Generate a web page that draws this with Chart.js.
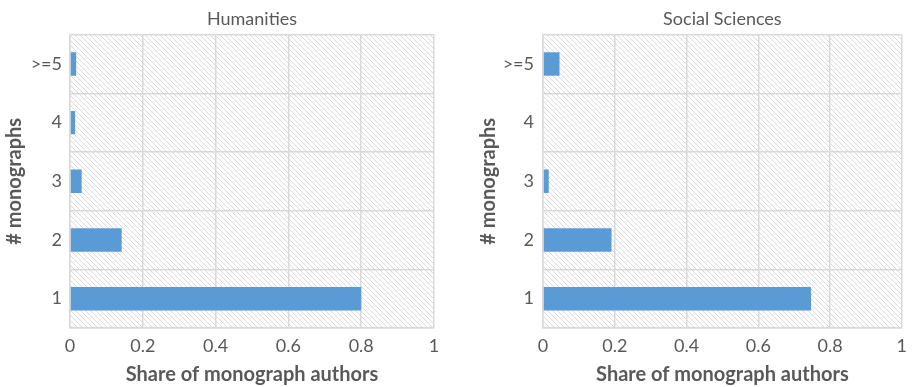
<!DOCTYPE html>
<html>
<head>
<meta charset="utf-8">
<script src="https://cdn.jsdelivr.net/npm/chart.js@4.4.1/dist/chart.umd.min.js"></script>
<style>
  html, body { margin: 0; padding: 0; background: #fff; }
  .wrap { display: flex; width: 914px; height: 387px; }
  .cell { position: relative; width: 457px; height: 387px; }
</style>
</head>
<body>
<div class="wrap">
  <div class="cell"><canvas id="chart-hum"></canvas></div>
  <div class="cell"><canvas id="chart-soc"></canvas></div>
</div>
<script>
// categories, bottom to top
const categories = ['1', '2', '3', '4', '>=5'];
const humanitiesShare = [0.80, 0.142, 0.032, 0.014, 0.017];
const socialShare = [0.747, 0.191, 0.016, 0, 0.046];
const xTicks = [0, 0.2, 0.4, 0.6, 0.8, 1];

const GRID = '#d9d9d9';
const TEXT = '#595959';
const FONT = 'Lato, "Open Sans", sans-serif';

function mkHatch() {
  const n = 5;
  const c = document.createElement('canvas');
  c.width = n; c.height = n;
  const g = c.getContext('2d');
  g.fillStyle = '#fff';
  g.fillRect(0, 0, n, n);
  g.strokeStyle = '#dadada';
  g.lineWidth = 1;
  g.beginPath();
  g.moveTo(0, 0); g.lineTo(n, n);
  g.moveTo(-1, n - 1); g.lineTo(1, n + 1);
  g.moveTo(n - 1, -1); g.lineTo(n + 1, 1);
  g.stroke();
  return c;
}

const hatchBg = {
  id: 'hatchBg',
  beforeDraw(chart) {
    const { ctx, chartArea: a } = chart;
    ctx.save();
    ctx.fillStyle = ctx.createPattern(mkHatch(), 'repeat');
    ctx.fillRect(a.left, a.top, a.right - a.left, a.bottom - a.top);
    ctx.restore();
  }
};

function mkBarChart(el, title, values, opt) {
  return new Chart(el, {
    type: 'bar',
    data: {
      labels: categories,
      datasets: [{
        data: values,
        backgroundColor: '#5b9bd5',
        borderWidth: 0,
        barPercentage: 0.8,
        categoryPercentage: 0.5
      }]
    },
    options: {
      indexAxis: 'y',
      responsive: false,
      animation: false,
      layout: { padding: { left: 0, right: opt.padRight, top: 0, bottom: 0 } },
      plugins: {
        legend: { display: false },
        tooltip: { enabled: false },
        title: {
          display: true,
          text: title,
          fullSize: false,
          color: TEXT,
          font: { family: FONT, size: 18, weight: 'normal' },
          padding: { top: 8, bottom: 5 }
        }
      },
      scales: {
        x: {
          min: 0, max: 1,
          afterBuildTicks: (s) => { s.ticks = xTicks.map(v => ({ value: v })); },
          afterFit: (s) => { s.height = 59; },
          ticks: {
            color: TEXT, padding: 7,
            font: { family: FONT, size: 18 },
            callback: (v) => String(v)
          },
          grid: { color: GRID, lineWidth: 1.5, drawTicks: false },
          border: { color: GRID, width: 1.5 },
          title: {
            display: true,
            text: 'Share of monograph authors',
            color: TEXT,
            font: { family: FONT, size: 20, weight: 'bold' },
            padding: 0
          }
        },
        y: {
          reverse: true,
          afterFit: (s) => { s.width = opt.axisWidth; },
          ticks: {
            color: TEXT, padding: opt.tickPad,
            font: { family: FONT, size: 18 }
          },
          grid: { color: GRID, lineWidth: 1.5, drawTicks: false, offset: true },
          border: { color: GRID, width: 1.5 },
          title: {
            display: true,
            text: '# monographs',
            color: TEXT,
            font: { family: FONT, size: 20, weight: 'bold' },
            padding: { top: opt.titlePad, bottom: 0 }
          }
        }
      }
    },
    plugins: [hatchBg]
  });
}

function setup(id) {
  const el = document.getElementById(id);
  el.width = 457; el.height = 387;
  return el;
}

mkBarChart(setup('chart-hum'), 'Humanities', humanitiesShare,
  { axisWidth: 70, padRight: 23, tickPad: 8, titlePad: 3 });
mkBarChart(setup('chart-soc'), 'Social Sciences', socialShare,
  { axisWidth: 86, padRight: 7, tickPad: 9, titlePad: 20 });
</script>
</body>
</html>
